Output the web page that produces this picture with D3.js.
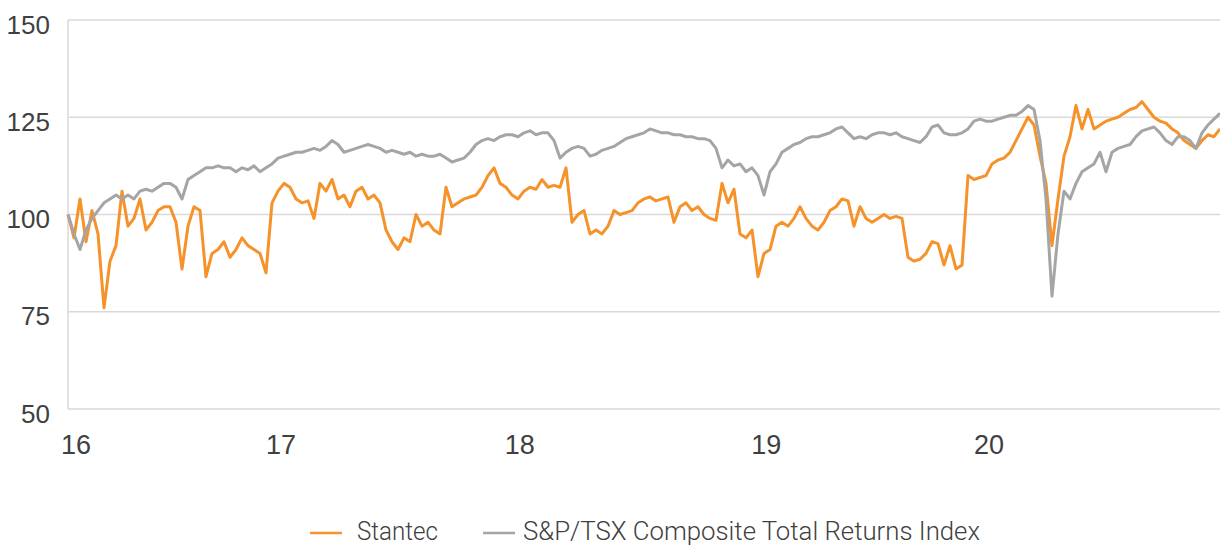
<!DOCTYPE html>
<html>
<head>
<meta charset="utf-8">
<script src="https://cdn.jsdelivr.net/npm/d3@7"></script>
<style>
  html, body { margin: 0; padding: 0; background: #fff; }
  svg { display: block; font-family: "Roboto", "Liberation Sans", sans-serif; }
</style>
</head>
<body>
<div id="chart"></div>
<script>
// series values, roughly weekly samples (index = sample)
const stantec = [
  100, 94, 104, 93, 101, 95, 76, 88, 92, 106,
  97, 99, 104, 96, 98, 101, 102, 102, 98, 86,
  97, 102, 101, 84, 90, 91, 93, 89, 91, 94,
  92, 91, 90, 85, 103, 106, 108, 107, 104, 103,
  103.5, 99, 108, 106, 109, 104, 105, 102, 106, 107,
  104, 105, 103, 96, 93, 91, 94, 93, 100, 97,
  98, 96, 95, 107, 102, 103, 104, 104.5, 105, 107,
  110, 112, 108, 107, 105, 104, 106, 107, 106.5, 109,
  107, 107.5, 107, 112, 98, 100, 101, 95, 96, 95,
  97, 101, 100, 100.5, 101, 103, 104, 104.5, 103.5, 104,
  104.5, 98, 102, 103, 101, 102, 100, 99, 98.5, 108,
  103, 106.5, 95, 94, 96, 84, 90, 91, 97, 98,
  97, 99, 102, 99, 97, 96, 98, 101, 102, 104,
  103.5, 97, 102, 99, 98, 99, 100, 99, 99.5, 99,
  89, 88, 88.5, 90, 93, 92.5, 87, 92, 86, 87,
  110, 109, 109.5, 110, 113, 114, 114.5, 116, 119, 122,
  125, 123, 115, 108, 92, 104, 115, 120, 128, 122,
  127, 122, 123, 124, 124.5, 125, 126, 127, 127.5, 129,
  127, 125, 124, 123.5, 122, 121, 119, 118, 117, 119,
  120.5, 120, 122
];

const tsx = [
  100, 95, 91, 96, 99, 101, 103, 104, 105, 104,
  105, 104, 106, 106.5, 106, 107, 108, 108, 107, 104,
  109, 110, 111, 112, 112, 112.5, 112, 112, 111, 112,
  111.5, 112.5, 111, 112, 113, 114.5, 115, 115.5, 116, 116,
  116.5, 117, 116.5, 117.5, 119, 118, 116, 116.5, 117, 117.5,
  118, 117.5, 117, 116, 116.5, 116, 115.5, 116, 115, 115.5,
  115, 115, 115.5, 114.5, 113.5, 114, 114.5, 116, 118, 119,
  119.5, 119, 120, 120.5, 120.5, 120, 121, 121.5, 120.5, 121,
  121, 119, 114.5, 116, 117, 117.5, 117, 115, 115.5, 116.5,
  117, 117.5, 118.5, 119.5, 120, 120.5, 121, 122, 121.5, 121,
  121, 120.5, 120.5, 120, 120, 119.5, 119.5, 119, 117, 112,
  114, 112.5, 113, 111, 112, 110, 105, 111, 113, 116,
  117, 118, 118.5, 119.5, 120, 120, 120.5, 121, 122, 122.5,
  121, 119.5, 120, 119.5, 120.5, 121, 121, 120.5, 121, 120,
  119.5, 119, 118.5, 120, 122.5, 123, 121, 120.5, 120.5, 121,
  122, 124, 124.5, 124, 124, 124.5, 125, 125.5, 125.5, 126.5,
  128, 127, 119, 104, 79, 95, 106, 104, 108, 111,
  112, 113, 116, 111, 116, 117, 117.5, 118, 120, 121.5,
  122, 122.5, 121, 119, 118, 120, 120, 119, 117, 121,
  123, 124.5, 126
];

const yTicks = [50, 75, 100, 125, 150];
const xTickIndex = [1.25, 35.4, 75.2, 116.3, 153.4];
const xTickLabels = ["16", "17", "18", "19", "20"];
const seriesNames = ["Stantec", "S&P/TSX Composite Total Returns Index"];
const seriesColors = ["#f5922a", "#a5a5a5"];

const width = 1220, height = 546;
const margin = { left: 68, right: 1220, top: 20, bottom: 409 };

const svg = d3.select("#chart").append("svg")
    .attr("width", width)
    .attr("height", height);

const x = d3.scaleLinear()
    .domain([0, stantec.length - 1])
    .range([margin.left, margin.right]);

const y = d3.scaleLinear()
    .domain([50, 150])
    .range([margin.bottom, margin.top]);

// horizontal gridlines
svg.append("g")
    .selectAll("line")
    .data(yTicks)
    .enter()
    .append("line")
    .attr("x1", margin.left)
    .attr("x2", margin.right)
    .attr("y1", d => y(d))
    .attr("y2", d => y(d))
    .attr("stroke", "#d9d9d9")
    .attr("stroke-width", 1.5);

// left axis line
svg.append("line")
    .attr("x1", margin.left).attr("x2", margin.left)
    .attr("y1", margin.top).attr("y2", margin.bottom)
    .attr("stroke", "#d9d9d9")
    .attr("stroke-width", 1.5);

// y axis labels
const yAxis = svg.append("g")
    .attr("transform", `translate(${margin.left},0)`)
    .call(d3.axisLeft(y).tickValues(yTicks).tickSize(0).tickPadding(18));
yAxis.select(".domain").remove();
yAxis.selectAll("text")
    .attr("dy", "0.5em")
    .style("font-size", "26px")
    .style("font-weight", 300)
    .attr("fill", "#404040");

// x axis labels
const xAxis = svg.append("g")
    .attr("transform", `translate(0,${margin.bottom})`)
    .call(d3.axisBottom(x)
        .tickValues(xTickIndex)
        .tickFormat((d, i) => xTickLabels[i])
        .tickSize(0)
        .tickPadding(26));
xAxis.select(".domain").remove();
xAxis.selectAll("text")
    .style("font-size", "27px")
    .style("font-weight", 300)
    .attr("fill", "#404040");

const line = d3.line()
    .x((d, i) => x(i))
    .y(d => y(d))
    .curve(d3.curveLinear);

[stantec, tsx].forEach((series, k) => {
    svg.append("path")
        .datum(series)
        .attr("fill", "none")
        .attr("stroke", seriesColors[k])
        .attr("stroke-width", 3)
        .attr("stroke-linejoin", "round")
        .attr("d", line);
});

// legend
const legendX = [310, 483];
const legendTextX = [357, 523];
const legendTextLen = [81, 457];
const legend = svg.append("g");
seriesNames.forEach((name, k) => {
    legend.append("line")
        .attr("x1", legendX[k]).attr("x2", legendX[k] + 32)
        .attr("y1", 533).attr("y2", 533)
        .attr("stroke", seriesColors[k])
        .attr("stroke-width", 2.5);
    legend.append("text")
        .attr("x", legendTextX[k])
        .attr("y", 540)
        .attr("textLength", legendTextLen[k])
        .attr("lengthAdjust", "spacingAndGlyphs")
        .style("font-size", "25px")
        .style("font-weight", 300)
        .attr("fill", "#404040")
        .text(name);
});
</script>
</body>
</html>
